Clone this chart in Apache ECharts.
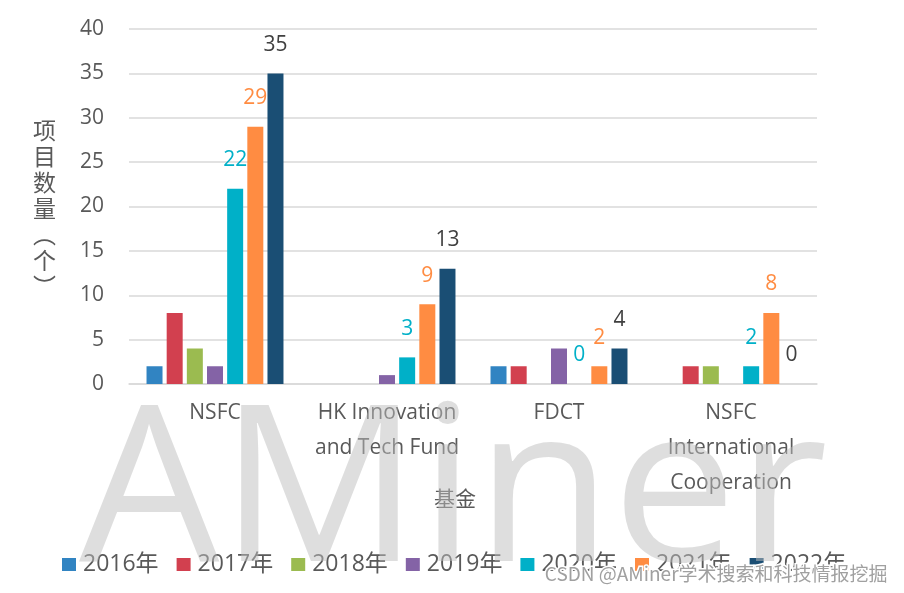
<!DOCTYPE html>
<html>
<head>
<meta charset="utf-8">
<script src="https://cdn.jsdelivr.net/npm/echarts@6/dist/echarts.min.js"></script>
<style>html,body{margin:0;padding:0;background:#fff;}#c{width:904px;height:593px;}</style>
</head>
<body>
<div id="c"></div>
<script>
const categories = ['NSFC', 'HK Innovation\nand Tech Fund', 'FDCT', 'NSFC\nInternational\nCooperation'];
const years = ['2016年', '2017年', '2018年', '2019年', '2020年', '2021年', '2022年'];
const v2016 = [2, 0, 2, 0];
const v2017 = [8, 0, 2, 2];
const v2018 = [4, 0, 0, 2];
const v2019 = [2, 1, 4, 0];
const v2020 = [22, 3, 0, 2];
const v2021 = [29, 9, 2, 8];
const v2022 = [35, 13, 4, 0];
const yTicks = [0, 5, 10, 15, 20, 25, 30, 35, 40];

const values = [v2016, v2017, v2018, v2019, v2020, v2021, v2022];
const colors = ['#3184C2', '#D2404F', '#9BBB50', '#8463A6', '#00B0C8', '#FF8C42', '#1A4E74'];
const labelColors = [null, null, null, null, '#00B0C8', '#FF8C42', '#404040'];
const FONT = '"Open Sans", "Noto Sans CJK SC", sans-serif';

const chart = echarts.init(document.getElementById('c'));
const series = years.map((y, i) => ({
  name: y,
  type: 'bar',
  data: values[i],
  barWidth: 16,
  barGap: '26%',
  itemStyle: { color: colors[i] },
  label: labelColors[i] ? {
    show: true, position: 'top', distance: 18,
    color: labelColors[i], fontSize: 21, fontFamily: FONT
  } : { show: false }
}));

chart.setOption({
  backgroundColor: '#fff',
  animation: false,
  color: colors,
  grid: { left: 129, right: 87, top: 29, bottom: 209 },
  graphic: [
    {
      type: 'text', left: 79, top: 390, z: 50, zlevel: 1, silent: true,
      scaleX: 1.02,
      style: { text: 'AMiner', fontSize: 218, fontFamily: FONT, fill: 'rgba(190,190,190,0.5)' }
    },
    {
      type: 'text', left: 33, top: 119, z: 10,
      style: { text: '项\n目\n数\n量\n︵\n个\n︶', fontSize: 23, lineHeight: 26, fontFamily: FONT, fill: '#595959', align: 'center' }
    },
    {
      type: 'text', x: 455, y: 500, z: 10,
      style: { text: '基金', fontSize: 21, fontFamily: FONT, fill: '#595959', align: 'center', verticalAlign: 'middle' }
    },
    {
      type: 'text', right: 15, top: 563, z: 100, zlevel: 2,
      style: { text: 'CSDN @AMiner学术搜索和科技情报挖掘', fontSize: 19, fontFamily: '"Noto Sans CJK SC", sans-serif', fill: '#a0a0a0', stroke: '#fff', lineWidth: 3 }
    }
  ],
  legend: {
    data: years,
    left: 57, top: 548,
    icon: 'rect', itemWidth: 14, itemHeight: 13, itemGap: 18,
    textStyle: { fontSize: 23, color: '#595959', fontFamily: FONT, padding: [0, 0, 0, 2] }
  },
  xAxis: {
    type: 'category',
    data: categories,
    axisLine: { show: true, lineStyle: { color: '#d9d9d9', width: 1.5 } },
    axisTick: { show: false },
    axisLabel: { fontSize: 21, color: '#595959', fontFamily: FONT, lineHeight: 35, margin: 12, interval: 0 }
  },
  yAxis: {
    type: 'value', min: 0, max: 40, interval: 5,
    axisLine: { show: false }, axisTick: { show: false },
    axisLabel: { fontSize: 21, color: '#595959', fontFamily: FONT, margin: 25,
      formatter: v => yTicks.includes(v) ? String(v) : '' },
    splitLine: { lineStyle: { color: '#d9d9d9', width: 1.5 } }
  },
  series: series
});
</script>
</body>
</html>
